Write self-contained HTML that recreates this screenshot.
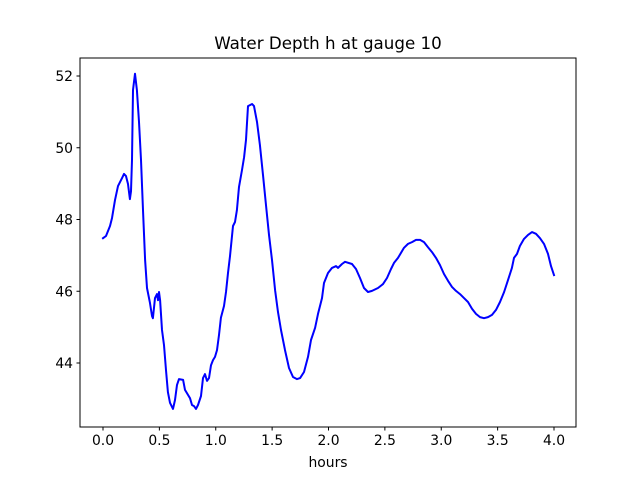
<!DOCTYPE html>
<html><head><meta charset="utf-8"><style>
body{margin:0;background:#fff}
svg text{font-family:"DejaVu Sans","Liberation Sans",sans-serif;fill:#000}
</style></head><body>
<svg id="chart" width="640" height="480" xmlns="http://www.w3.org/2000/svg">
<rect width="640" height="480" fill="#fff"/>
<text x="328" y="49" text-anchor="middle" font-size="16.7">Water Depth h at gauge 10</text>
<g id="plot"></g>
<rect x="80" y="58" width="496" height="369" fill="none" stroke="#000" stroke-width="1"/>
<text x="328" y="467" text-anchor="middle" font-size="13.9">hours</text>
</svg>
<script>
const times=[0,.027,.062,.080,.106,.133,.169,.186,.204,.222,.239,.248,.257,.266,.284,.301,.319,.337,.355,.373,.390,.417,.435,.443,.461,.479,.488,.497,.506,.523,.541,.559,.576,.594,.621,.639,.656,.674,.710,.727,.754,.772,.789,.807,.825,.843,.869,.887,.905,.922,.940,.958,.976,.993,1.011,1.029,1.046,1.073,1.091,1.109,1.126,1.153,1.171,1.188,1.206,1.233,1.251,1.268,1.286,1.322,1.339,1.366,1.392,1.419,1.446,1.472,1.499,1.526,1.552,1.579,1.614,1.650,1.685,1.721,1.748,1.783,1.818,1.845,1.881,1.907,1.942,1.960,1.996,2.031,2.067,2.084,2.120,2.146,2.208,2.244,2.279,2.315,2.350,2.386,2.439,2.483,2.519,2.554,2.581,2.616,2.670,2.705,2.741,2.776,2.812,2.847,2.882,2.918,2.953,2.989,3.024,3.060,3.095,3.131,3.166,3.202,3.237,3.273,3.308,3.344,3.379,3.415,3.450,3.486,3.521,3.557,3.592,3.627,3.645,3.672,3.698,3.734,3.769,3.805,3.840,3.876,3.911,3.947,3.973,4.0];
const depths=[47.48,47.54,47.82,48.04,48.54,48.93,49.16,49.27,49.21,48.99,48.57,48.79,49.66,51.61,52.06,51.61,50.72,49.66,48.26,46.87,46.09,45.67,45.31,45.25,45.81,45.92,45.75,45.98,45.75,44.92,44.50,43.80,43.19,42.89,42.72,42.97,43.39,43.55,43.53,43.25,43.11,43.02,42.83,42.80,42.72,42.83,43.08,43.58,43.69,43.50,43.58,43.94,44.08,44.17,44.36,44.78,45.26,45.59,45.98,46.51,46.98,47.82,47.93,48.26,48.91,49.38,49.74,50.22,51.16,51.22,51.16,50.72,50.08,49.24,48.40,47.57,46.87,46.03,45.42,44.92,44.36,43.86,43.61,43.55,43.58,43.75,44.17,44.64,44.98,45.37,45.81,46.23,46.51,46.65,46.70,46.65,46.76,46.82,46.76,46.62,46.37,46.09,45.98,46.01,46.09,46.20,46.37,46.62,46.79,46.93,47.21,47.32,47.37,47.43,47.43,47.37,47.23,47.09,46.93,46.73,46.48,46.29,46.12,46.01,45.92,45.81,45.70,45.51,45.37,45.28,45.25,45.28,45.34,45.48,45.70,45.98,46.31,46.65,46.93,47.04,47.26,47.46,47.57,47.65,47.60,47.48,47.32,47.04,46.70,46.45];
const xTicks=[0,0.5,1,1.5,2,2.5,3,3.5,4];
const xTickLabels=["0.0","0.5","1.0","1.5","2.0","2.5","3.0","3.5","4.0"];
const yTicks=[44,46,48,50,52];
const yTickLabels=["44","46","48","50","52"];
const X=t=>103+t*112.75;
const Y=h=>76+(52-h)*35.875;
const NS="http://www.w3.org/2000/svg";
const g=document.getElementById('plot');
function mk(tag,attrs){const e=document.createElementNS(NS,tag);for(const k in attrs)e.setAttribute(k,attrs[k]);g.appendChild(e);return e;}
xTicks.forEach((v,i)=>{
 const l=mk('line',{x1:X(v),x2:X(v),y1:427,y2:430.5,stroke:'#000'});
 
 
 const t=mk('text',{x:X(v),y:445,'text-anchor':'middle','font-size':'13.9'});
 t.textContent=xTickLabels[i];
 
 
});
yTicks.forEach((v,i)=>{
 const l=mk('line',{x1:76.5,x2:80,y1:Y(v),y2:Y(v),stroke:'#000'});
 
 
 const t=mk('text',{x:73,y:Y(v)+5,'text-anchor':'end','font-size':'13.9'});
 t.textContent=yTickLabels[i];
 
 
});
const d=times.map((t,i)=>(i?'L':'M')+X(t).toFixed(1)+','+Y(depths[i]).toFixed(1)).join(' ');
const p=mk('path',{d:d,fill:'none',stroke:'#0000ff','stroke-width':'2','stroke-linejoin':'round','stroke-linecap':'square'});


</script>
</body></html>
